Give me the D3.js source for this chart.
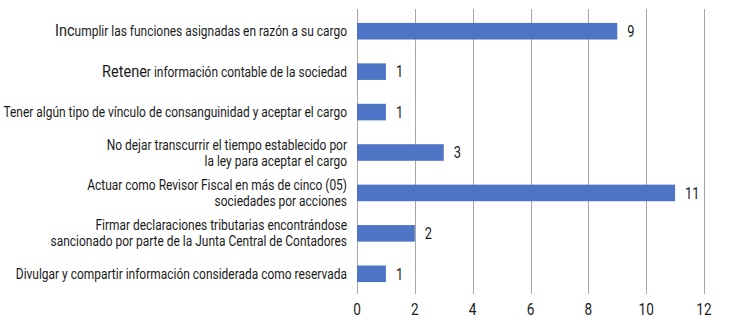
<!DOCTYPE html>
<html><head><meta charset="utf-8">
<script src="https://cdn.jsdelivr.net/npm/d3@7"></script>
<style>
body{margin:0;background:#fff;}
text{font-family:Roboto,"Liberation Sans",sans-serif;}
</style></head><body>
<svg id="c" width="738" height="332"></svg>
<script>
const categories = [
  ["Incumplir las funciones asignadas en razón a su cargo"],
  ["Retener información contable de la sociedad"],
  ["Tener algún tipo de vínculo de consanguinidad y aceptar el cargo"],
  ["No dejar transcurrir el tiempo establecido por", "la ley para aceptar el cargo"],
  ["Actuar como Revisor Fiscal en más de cinco (05)", "sociedades por acciones"],
  ["Firmar declaraciones tributarias encontrándose", "sancionado por parte de la Junta Central de Contadores"],
  ["Divulgar y compartir información considerada como reservada"]
];
// leading characters drawn larger in the reference
const bigPrefix = ["Inc", "Retene", "", "", "", "", ""];
const values = [9, 1, 1, 3, 11, 2, 1];
const xTicks = [0, 2, 4, 6, 8, 10, 12];

const svg = d3.select("#c");
const x = d3.scaleLinear().domain([0, 12]).range([357, 704]);
const y = d3.scaleBand().domain(d3.range(categories.length)).range([11, 294]).paddingInner(0.59).paddingOuter(0.295);

// gridlines
svg.append("g").selectAll("line").data(xTicks).join("line")
  .attr("x1", d => Math.round(x(d)) + 0.5).attr("x2", d => Math.round(x(d)) + 0.5)
  .attr("y1", 9).attr("y2", 294)
  .attr("stroke", "#a6a6a6").attr("stroke-width", 1);

// bars
svg.append("g").selectAll("rect").data(values).join("rect")
  .attr("x", x(0)).attr("y", (d, i) => y(i))
  .attr("width", d => x(d) - x(0)).attr("height", y.bandwidth())
  .attr("fill", "#4e75c5");

function condense(sel, ax, sx) {
  sel.attr("transform", function() {
    const a = ax(this);
    return `translate(${a},0) scale(${sx},1) translate(${-a},0)`;
  });
}

// value labels
const vl = svg.append("g").selectAll("text").data(values).join("text")
  .attr("x", d => x(d) + 10).attr("y", (d, i) => y(i) + y.bandwidth() / 2)
  .attr("dy", "0.36em").attr("font-size", 16).attr("fill", "#1a1a1a")
  .text(d => d);
condense(vl, el => +el.getAttribute("x"), 0.8);

// category labels
const lab = svg.append("g").selectAll("text").data(categories).join("text")
  .attr("x", 347).attr("text-anchor", "end").attr("font-size", 14).attr("fill", "#1a1a1a")
  .attr("y", (d, i) => y(i) + y.bandwidth() / 2);
lab.each(function(d, i) {
  const t = d3.select(this);
  const n = d.length;
  d.forEach((line, j) => {
    const ts = t.append("tspan").attr("x", 347)
      .attr("dy", j === 0 ? ((0.36 - (n - 1) * 0.57) + "em") : "1.14em");
    const p = j === 0 ? bigPrefix[i] : "";
    if (p && line.startsWith(p)) {
      ts.append("tspan").attr("font-size", 17).text(p);
      t.append("tspan").text(line.slice(p.length));
    } else {
      ts.text(line);
    }
  });
});
condense(lab, () => 347, 0.855);

// x axis tick labels
const tl = svg.append("g").selectAll("text").data(xTicks).join("text")
  .attr("x", d => x(d)).attr("y", 309).attr("dy", "0.36em")
  .attr("text-anchor", "middle").attr("font-size", 17).attr("fill", "#1a1a1a")
  .text(d => d);
condense(tl, el => +el.getAttribute("x"), 0.8);
</script></body></html>
